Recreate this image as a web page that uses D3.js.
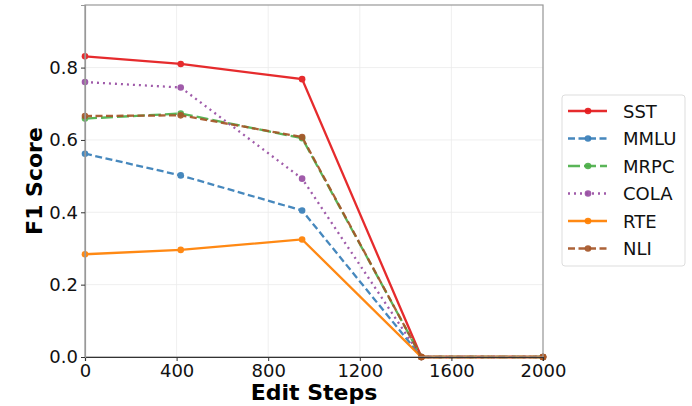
<!DOCTYPE html>
<html>
<head>
<meta charset="utf-8">
<script src="https://cdn.jsdelivr.net/npm/d3@7.9.0/dist/d3.min.js"></script>
<style>
  body { margin: 0; background: #fff; }
  svg { font-family: "DejaVu Sans", sans-serif; }
</style>
</head>
<body>
<svg id="chart"></svg>
<script>
const width = 692;
const height = 406;

// data
const steps = [0, 418, 948, 1469, 2000];
const seriesNames = ["SST", "MMLU", "MRPC", "COLA", "RTE", "NLI"];
const sst  = [0.831, 0.810, 0.768, 0, 0];
const mmlu = [0.562, 0.502, 0.405, 0, 0];
const mrpc = [0.659, 0.673, 0.605, 0, 0];
const cola = [0.760, 0.745, 0.493, 0, 0];
const rte  = [0.284, 0.296, 0.325, 0, 0];
const nli  = [0.666, 0.668, 0.608, 0, 0];
const xTicks = [0, 400, 800, 1200, 1600, 2000];
const yTicks = [0.0, 0.2, 0.4, 0.6, 0.8];

const colors = ["#e41a1c", "#377eb8", "#4daf4a", "#984ea3", "#ff7f00", "#a65628"];
const dashes = [null, "7,3.5", "12,4", "2,4", null, "7,3.5"];
const values = [sst, mmlu, mrpc, cola, rte, nli];

const margin = {left: 85, right: 149, top: 5, bottom: 49};

const svg = d3.select("#chart").attr("width", width).attr("height", height);

const x = d3.scaleLinear().domain([0, 2000]).range([margin.left, width - margin.right]);
const y = d3.scaleLinear().domain([0, 0.973]).range([height - margin.bottom, margin.top]);

// grid
const grid = svg.append("g");
grid.selectAll("line.gx").data(xTicks).enter().append("line")
    .attr("x1", d => x(d)).attr("x2", d => x(d))
    .attr("y1", y(0)).attr("y2", margin.top)
    .attr("stroke", "#ebebeb").attr("stroke-width", 0.8);
grid.selectAll("line.gy").data(yTicks).enter().append("line")
    .attr("y1", d => y(d)).attr("y2", d => y(d))
    .attr("x1", x(0)).attr("x2", x(2000))
    .attr("stroke", "#ebebeb").attr("stroke-width", 0.8);

// lines
const line = d3.line().x((d, i) => x(steps[i])).y(d => y(d));
seriesNames.forEach((name, k) => {
    const g = svg.append("g").attr("opacity", 0.92);
    g.append("path")
        .datum(values[k])
        .attr("d", line)
        .attr("fill", "none")
        .attr("stroke", colors[k])
        .attr("stroke-width", 2.3)
        .attr("stroke-dasharray", dashes[k]);
    g.selectAll("circle").data(values[k]).enter().append("circle")
        .attr("cx", (d, i) => x(steps[i]))
        .attr("cy", d => y(d))
        .attr("r", 3.3)
        .attr("fill", colors[k]);
});

// frame
svg.append("rect")
    .attr("x", x(0)).attr("y", margin.top)
    .attr("width", x(2000) - x(0)).attr("height", y(0) - margin.top)
    .attr("fill", "none").attr("stroke", "#999").attr("stroke-width", 1.2);

// axes
const xAxis = svg.append("g")
    .attr("transform", `translate(0,${y(0)})`)
    .call(d3.axisBottom(x).tickValues(xTicks).tickSize(4).tickPadding(3).tickFormat(d3.format("d")));
const yAxis = svg.append("g")
    .attr("transform", `translate(${x(0)},0)`)
    .call(d3.axisLeft(y).tickValues(yTicks).tickSize(4).tickPadding(3).tickFormat(d3.format(".1f")));
[xAxis, yAxis].forEach(a => {
    a.select(".domain").attr("stroke", "#333").attr("stroke-width", 1.2);
    a.selectAll(".tick line").attr("stroke", "#333");
    a.selectAll(".tick text").attr("fill", "#111").style("font-size", "18px").style("font-family", "DejaVu Sans");
});
yAxis.select(".domain").attr("stroke", "#999");

// axis titles
svg.append("text")
    .attr("x", (x(0) + x(2000)) / 2).attr("y", 400)
    .attr("text-anchor", "middle")
    .style("font-size", "22px").style("font-weight", "bold")
    .text("Edit Steps");
svg.append("text")
    .attr("transform", `translate(42,${(y(0) + margin.top) / 2}) rotate(-90)`)
    .attr("text-anchor", "middle")
    .style("font-size", "22px").style("font-weight", "bold")
    .text("F1 Score");

// legend
const legend = svg.append("g").attr("transform", "translate(562,95)");
legend.append("rect")
    .attr("width", 123).attr("height", 171).attr("rx", 3)
    .attr("fill", "#fff").attr("stroke", "#ddd");
seriesNames.forEach((name, k) => {
    const ly = 16 + k * 27.5;
    legend.append("line")
        .attr("x1", 6).attr("x2", 45).attr("y1", ly).attr("y2", ly)
        .attr("stroke", colors[k]).attr("stroke-width", 2.3)
        .attr("stroke-dasharray", dashes[k]).attr("opacity", 0.92);
    legend.append("circle")
        .attr("cx", 26).attr("cy", ly).attr("r", 3.3)
        .attr("fill", colors[k]).attr("opacity", 0.92);
    legend.append("text")
        .attr("x", 61).attr("y", ly + 6.5)
        .style("font-size", "18px").attr("fill", "#111")
        .text(name);
});
</script>
</body>
</html>
